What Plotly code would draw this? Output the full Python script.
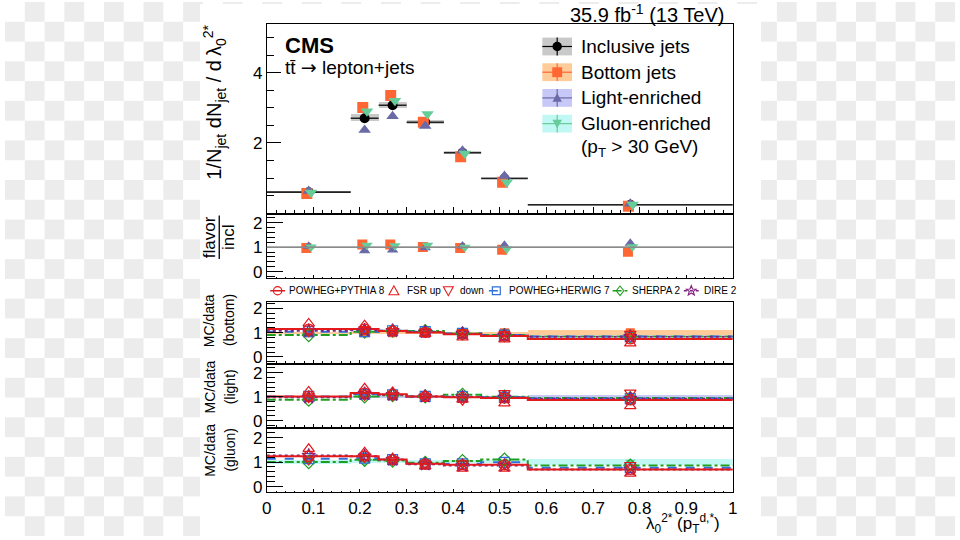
import math
import plotly.graph_objects as go

W, H = 960, 540

# ---------------- data ----------------
edges = [0.0, 0.18, 0.24, 0.30, 0.38, 0.46, 0.56, 1.0]
centers = [0.09, 0.21, 0.27, 0.34, 0.42, 0.51, 0.78]

incl = [0.60, 2.70, 3.07, 2.59, 1.72, 0.99, 0.24]
incl_unc = [0.03, 0.10, 0.09, 0.06, 0.04, 0.03, 0.02]
bottom = [0.56, 3.01, 3.35, 2.59, 1.61, 0.88, 0.20]
light = [0.63, 2.37, 2.76, 2.48, 1.78, 1.06, 0.27]
gluon = [0.59, 2.90, 3.20, 2.82, 1.70, 0.88, 0.25]

flav_bottom = [0.97, 1.11, 1.11, 1.01, 0.97, 0.90, 0.81]
flav_light = [1.04, 0.86, 0.89, 0.98, 1.05, 1.08, 1.16]
flav_gluon = [1.01, 1.08, 1.06, 1.08, 1.00, 0.93, 1.02]
incl_rel_unc = [0.04, 0.04, 0.03, 0.03, 0.03, 0.03, 0.05]

# MC/data, bottom jets
unc_b = [0.05, 0.05, 0.04, 0.04, 0.04, 0.05, 0.10]
pythia_b = [1.15, 1.15, 1.07, 1.01, 0.93, 0.86, 0.74]
herwig_b = [1.04, 1.04, 1.08, 1.04, 0.97, 0.90, 0.84]
sherpa_b = [0.90, 1.04, 1.08, 1.07, 0.97, 0.90, 0.84]
dire_b = [1.08, 1.10, 1.08, 1.03, 0.96, 0.88, 0.83]
fsrup_b = [1.38, 1.31, 1.10, 0.95, 0.80, 0.72, 0.56]
fsrdn_b = [1.05, 1.15, 1.06, 1.05, 1.00, 0.93, 0.95]

# MC/data, light-enriched
unc_l = [0.05, 0.05, 0.04, 0.04, 0.04, 0.05, 0.08]
pythia_l = [1.01, 1.15, 1.10, 1.01, 0.97, 0.94, 0.86]
herwig_l = [1.01, 1.10, 1.08, 1.01, 1.00, 0.97, 0.92]
sherpa_l = [0.87, 1.01, 1.06, 1.01, 1.08, 1.00, 0.94]
dire_l = [0.97, 1.12, 1.08, 1.01, 0.99, 0.96, 0.91]
fsrup_l = [1.22, 1.35, 1.20, 1.05, 0.88, 0.72, 0.60]
fsrdn_l = [0.95, 1.05, 1.05, 1.00, 0.85, 1.15, 1.17]

# MC/data, gluon-enriched
unc_g = [0.08, 0.06, 0.05, 0.05, 0.05, 0.06, 0.12]
pythia_g = [1.24, 1.24, 1.10, 0.93, 0.89, 0.89, 0.70]
herwig_g = [1.14, 1.16, 1.10, 0.93, 0.93, 0.99, 0.77]
sherpa_g = [1.00, 1.09, 1.06, 0.97, 1.04, 1.10, 0.86]
dire_g = [1.27, 1.24, 1.10, 0.91, 0.86, 0.86, 0.70]
fsrup_g = [1.54, 1.40, 1.15, 0.82, 0.73, 0.73, 0.53]
fsrdn_g = [1.10, 1.20, 1.08, 0.95, 0.95, 0.90, 0.88]

mc_names = ["POWHEG+PYTHIA 8", "FSR up", "down", "POWHEG+HERWIG 7", "SHERPA 2", "DIRE 2"]

# ---------------- style ----------------
FONT = "Liberation Sans, Arial, sans-serif"
C_INCL = "#000000"
C_BOT = "#ff6633"
C_LIGHT = "#6a6aa6"
C_GLU = "#66cc99"
B_INCL = "#c9c9c9"
B_BOT = "#ffcc99"
B_LIGHT = "#c8c8f8"
B_GLU = "#c2f8f4"
C_PY = "#e31a1c"
C_HW = "#2f6fdc"
C_SH = "#1f9f1f"
C_DI = "#7f1f7f"

widths = [edges[i + 1] - edges[i] for i in range(len(centers))]
halfw = [w / 2 for w in widths]

def fx(px):
    return px / W

def fy(py):
    return 1 - py / H

X_DOM = [fx(264.5), fx(735.5)]
panels = {
    1: dict(dom=(22.7, 213.6), rng=[0, 5.37]),
    2: dict(dom=(215.7, 279.3), rng=[-0.27, 2.31]),
    3: dict(dom=(303.3, 365.0), rng=[-0.25, 2.27]),
    4: dict(dom=(366.7, 429.3), rng=[-0.25, 2.34]),
    5: dict(dom=(432.3, 495.7), rng=[-0.23, 2.33]),
}

fig = go.Figure()

def ax(i):
    return ("x" if i == 1 else f"x{i}"), ("y" if i == 1 else f"y{i}")

# ---------------- top panel ----------------
xa, ya = ax(1)
fig.add_trace(go.Bar(x=centers, y=[2 * u for u in incl_unc],
                     base=[v - u for v, u in zip(incl, incl_unc)], width=widths,
                     marker=dict(color=B_INCL, line=dict(width=0)),
                     xaxis=xa, yaxis=ya, showlegend=False, hoverinfo="skip"))
fig.add_trace(go.Scatter(x=centers, y=incl, mode="markers",
                         marker=dict(symbol="circle", size=10, color=C_INCL),
                         error_x=dict(type="data", array=halfw, width=0, thickness=1.6, color="#222222"),
                         error_y=dict(type="data", array=incl_unc, width=0, thickness=1.6, color="#222222"),
                         xaxis=xa, yaxis=ya, showlegend=False))
for vals, sym, col, off in [(bottom, "square", C_BOT, -0.004),
                            (light, "triangle-up", C_LIGHT, 0.0),
                            (gluon, "triangle-down", C_GLU, 0.005)]:
    fig.add_trace(go.Scatter(x=[c + off for c in centers], y=vals, mode="markers",
                             marker=dict(symbol=sym, size=11, color=col, line=dict(width=0)),
                             xaxis=xa, yaxis=ya, showlegend=False))

# ---------------- flavour / inclusive ----------------
xa, ya = ax(2)
fig.add_trace(go.Bar(x=centers, y=[2 * u for u in incl_rel_unc],
                     base=[1 - u for u in incl_rel_unc], width=widths,
                     marker=dict(color="#d4d4d4", line=dict(width=0)),
                     xaxis=xa, yaxis=ya, showlegend=False, hoverinfo="skip"))
for vals, sym, col, off in [(flav_bottom, "square", C_BOT, -0.005),
                            (flav_light, "triangle-up", C_LIGHT, 0.0),
                            (flav_gluon, "triangle-down", C_GLU, 0.005)]:
    fig.add_trace(go.Scatter(x=[c + off for c in centers], y=vals, mode="markers",
                             marker=dict(symbol=sym, size=10, color=col, line=dict(width=0)),
                             xaxis=xa, yaxis=ya, showlegend=False))

# ---------------- MC / data panels ----------------
mc_panels = [
    (3, unc_b, B_BOT, C_BOT, "square", pythia_b, herwig_b, sherpa_b, dire_b, fsrup_b, fsrdn_b),
    (4, unc_l, B_LIGHT, C_LIGHT, "triangle-up", pythia_l, herwig_l, sherpa_l, dire_l, fsrup_l, fsrdn_l),
    (5, unc_g, B_GLU, C_GLU, "triangle-down", pythia_g, herwig_g, sherpa_g, dire_g, fsrup_g, fsrdn_g),
]
for (i, unc, bcol, mcol, msym, py, hw, sh, di, fu, fd) in mc_panels:
    xa, ya = ax(i)
    fig.add_trace(go.Bar(x=centers, y=[2 * u for u in unc], base=[1 - u for u in unc], width=widths,
                         marker=dict(color=bcol, line=dict(width=0)),
                         xaxis=xa, yaxis=ya, showlegend=False, hoverinfo="skip"))
    fig.add_trace(go.Scatter(x=centers, y=[1.0] * len(centers), mode="markers",
                             marker=dict(symbol=msym, size=9, color=mcol),
                             xaxis=xa, yaxis=ya, showlegend=False))
    for vals, col, dash in [(sh, C_SH, "dashdot"), (hw, C_HW, "dash"),
                            (di, C_DI, "dot"), (py, C_PY, "solid")]:
        fig.add_trace(go.Scatter(x=edges, y=list(vals) + [vals[-1]], mode="lines",
                                 line=dict(color=col, width=2, dash=dash, shape="hv"),
                                 xaxis=xa, yaxis=ya, showlegend=False))
    for vals, col, sym in [(sh, C_SH, "diamond-open"), (hw, C_HW, "square-open"),
                           (di, C_DI, "star-open"), (py, C_PY, "circle-open"),
                           (fu, C_PY, "triangle-up-open"), (fd, C_PY, "triangle-down-open")]:
        fig.add_trace(go.Scatter(x=centers, y=vals, mode="markers",
                                 marker=dict(symbol=sym, size=10, color=col, line=dict(width=1.2, color=col)),
                                 xaxis=xa, yaxis=ya, showlegend=False))

# ---------------- axes ----------------
layout_axes = {}
for i, p in panels.items():
    xname = "xaxis" if i == 1 else f"xaxis{i}"
    yname = "yaxis" if i == 1 else f"yaxis{i}"
    ylo, yhi = p["dom"]
    big = (i == 1)
    layout_axes[xname] = dict(
        domain=X_DOM, range=[0, 1], anchor=("y" if i == 1 else f"y{i}"),
        showline=True, mirror=True, linecolor="#000", linewidth=1,
        ticks="inside", ticklen=6 if big else 3, tickwidth=1, tickcolor="#000",
        dtick=0.1, tick0=0,
        minor=dict(ticks="inside", dtick=0.02, ticklen=3 if big else 1.5, tickcolor="#000"),
        showgrid=False, zeroline=False,
        showticklabels=(i == 5),
        tickfont=dict(family=FONT, size=17, color="#000"),
        fixedrange=True,
    )
    if big:
        tv = [2, 4]
        mv = [k * 0.5 for k in range(1, 11) if k % 4 != 0]
        tl, ml = 14, 7
    else:
        tv = [0, 1, 2]
        mv = [round(-0.2 + 0.2 * k, 2) for k in range(13) if round(-0.2 + 0.2 * k, 2) not in (0.0, 1.0, 2.0)]
        tl, ml = 16, 8
    layout_axes[yname] = dict(
        domain=[fy(yhi), fy(ylo)], range=p["rng"], anchor=("x" if i == 1 else f"x{i}"),
        showline=True, mirror=True, linecolor="#000", linewidth=1,
        ticks="inside", ticklen=tl, tickwidth=1, tickcolor="#000",
        tickmode="array", tickvals=tv, ticktext=[str(t) for t in tv],
        minor=dict(ticks="inside", tickmode="array", tickvals=mv, ticklen=ml, tickcolor="#000"),
        showgrid=False, zeroline=False,
        tickfont=dict(family=FONT, size=17, color="#000"),
        fixedrange=True,
    )

# ---------------- decorations ----------------
shapes = []

def rect(x0, y0, x1, y1, **kw):
    shapes.append(dict(type="rect", xref="paper", yref="paper",
                       x0=fx(x0), x1=fx(x1), y0=fy(y1), y1=fy(y0), **kw))

def line(x0, y0, x1, y1, color, width=1.2, dash="solid"):
    shapes.append(dict(type="line", xref="paper", yref="paper",
                       x0=fx(x0), x1=fx(x1), y0=fy(y0), y1=fy(y1),
                       line=dict(color=color, width=width, dash=dash)))

def poly(pts, fill, color, width=1.0):
    d = "M " + " L ".join(f"{fx(a):.5f},{fy(b):.5f}" for a, b in pts) + " Z"
    shapes.append(dict(type="path", xref="paper", yref="paper", path=d,
                       fillcolor=fill, line=dict(color=color, width=width)))

def marker_shape(sym, cx, cy, r, color, filled):
    fill = color if filled else "rgba(0,0,0,0)"
    if sym == "circle":
        shapes.append(dict(type="circle", xref="paper", yref="paper",
                           x0=fx(cx - r), x1=fx(cx + r), y0=fy(cy + r), y1=fy(cy - r),
                           fillcolor=fill, line=dict(color=color, width=0 if filled else 1.2)))
    elif sym == "square":
        rect(cx - r, cy - r, cx + r, cy + r, fillcolor=fill, line=dict(color=color, width=0 if filled else 1.2))
    elif sym == "up":
        poly([(cx - r, cy + r * 0.8), (cx + r, cy + r * 0.8), (cx, cy - r * 1.0)], fill, color, 0 if filled else 1.1)
    elif sym == "down":
        poly([(cx - r, cy - r * 0.8), (cx + r, cy - r * 0.8), (cx, cy + r * 1.0)], fill, color, 0 if filled else 1.1)
    elif sym == "diamond":
        poly([(cx, cy - r), (cx + r * 0.8, cy), (cx, cy + r), (cx - r * 0.8, cy)], fill, color, 1.1)
    elif sym == "star":
        pts = []
        for k in range(10):
            rr = r if k % 2 == 0 else r * 0.42
            a = -math.pi / 2 + k * math.pi / 5
            pts.append((cx + rr * math.cos(a), cy + rr * math.sin(a)))
        poly(pts, fill, color, 1.1)

# checkerboard (transparent-background look) outside the white canvas
for r in range(27):
    for c in range(48):
        if (r + c) % 2 == 1:
            x0, y0 = c * 20, r * 20
            if x0 >= 197 and x0 + 20 <= 764 and y0 >= 2:
                continue
            rect(x0, y0, x0 + 20, y0 + 20, fillcolor="#ececec", line=dict(width=0), layer="below")
rect(197, 2, 764, 540, fillcolor="white", line=dict(width=0), layer="below")

# reference line at 1 in flavour ratio panel
shapes.append(dict(type="line", xref="x2 domain", yref="y2", x0=0, x1=1, y0=1, y1=1,
                   line=dict(color="#8a8a8a", width=1.6)))

annotations = []

def text(x, y, s, size, anchor="left", angle=0, color="#000"):
    annotations.append(dict(xref="paper", yref="paper", x=fx(x), y=fy(y), text=s,
                            showarrow=False, xanchor=anchor, yanchor="middle", textangle=angle,
                            font=dict(family=FONT, size=size, color=color)))

# top legend
leg_rows = [(45, "Inclusive jets", B_INCL, C_INCL, "circle"),
            (71, "Bottom jets", B_BOT, C_BOT, "square"),
            (97, "Light-enriched", B_LIGHT, C_LIGHT, "up"),
            (123, "Gluon-enriched", B_GLU, C_GLU, "down")]
for cy, lab, bcol, mcol, sym in leg_rows:
    rect(543, cy - 9, 573, cy + 9, fillcolor=bcol, line=dict(width=0))
    line(543, cy, 573, cy, mcol, 1.2)
    line(558, cy - 9, 558, cy + 9, mcol, 1.2)
    marker_shape(sym, 558, cy, 4.8 if sym != "square" else 5, mcol, True)
    text(580, cy, lab, 19)
text(580, 148, "(p<sub>T</sub> > 30 GeV)", 19)

# MC legend row
ly = 292
line(268, ly, 283, ly, C_PY, 1.5)
marker_shape("circle", 275.5, ly, 4.2, C_PY, False)
marker_shape("up", 393, ly, 5, C_PY, False)
marker_shape("down", 448, ly, 5, C_PY, False)
line(489, ly, 504, ly, C_HW, 1.5, "dash")
marker_shape("square", 496.5, ly, 4, C_HW, False)
line(614, ly, 629, ly, C_SH, 1.5, "dashdot")
marker_shape("diamond", 621.5, ly, 4.8, C_SH, False)
line(686, ly, 701, ly, C_DI, 1.5, "dot")
marker_shape("star", 693.5, ly, 5.2, C_DI, False)
for xx, s in zip([285, 404, 458, 507, 632, 704], mc_names):
    text(xx, ly, s, 10)

# titles and labels
text(729, 12, "35.9 fb<sup>-1</sup> (13 TeV)", 20, anchor="right")
text(281, 44, "<b>CMS</b>", 22)
text(281, 66, "tt\u0304 <span style='font-family:DejaVu Sans'>\u2192</span> lepton+jets", 19)
text(212, 101, "1/N<sub>jet</sub> dN<sub>jet</sub> / d\u2009\u03bb<sub>0</sub><sup>2*</sup>", 20, anchor="center", angle=-90)
text(207, 238, "flavor", 17, anchor="center", angle=-90)
text(226, 238, "incl", 17, anchor="center", angle=-90)
line(216.5, 216, 216.5, 260, "#000", 1.3)
for cy, lab in [(322, "(bottom)"), (389, "(light)"), (453, "(gluon)")]:
    text(207, cy, "MC/data", 14, anchor="center", angle=-90)
    text(227, cy, lab, 14, anchor="center", angle=-90)
text(725, 527, "\u03bb<sub>0</sub><sup>2*</sup> (p<sub>T</sub><sup>d,*</sup>)", 17, anchor="right")

fig.update_layout(
    width=W, height=H, margin=dict(l=0, r=0, t=0, b=0),
    paper_bgcolor="white", plot_bgcolor="white",
    barmode="overlay", bargap=0, showlegend=False, hovermode=False,
    shapes=shapes, annotations=annotations,
    font=dict(family=FONT, color="#000"),
    **layout_axes,
)

fig.write_html("out.html")
